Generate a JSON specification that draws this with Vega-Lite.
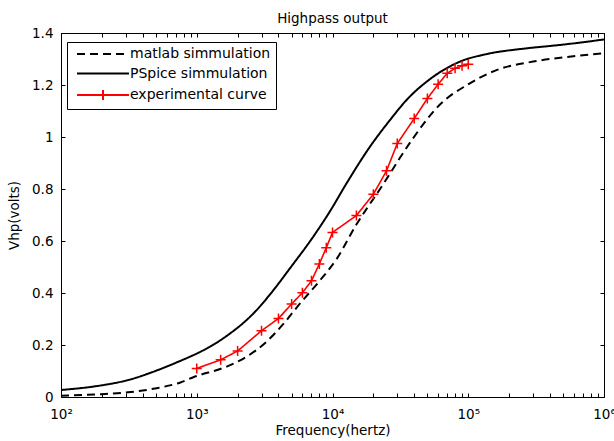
{
  "$schema": "https://vega.github.io/schema/vega-lite/v6.json",
  "width": 543,
  "height": 364,
  "autosize": "none",
  "padding": {"left": 61, "top": 33, "right": 10, "bottom": 44},
  "background": "white",
  "title": {"text": "Highpass output", "font": "DejaVu Sans", "fontSize": 13.5, "fontWeight": "normal", "color": "black", "offset": 1, "anchor": "middle"},
  "config": {"view": {"stroke": "black", "strokeWidth": 1}, "font": "DejaVu Sans"},
  "datasets": {
    "sim": [
      {"series": "PSpice simmulation", "freq": 100, "v": 0.027},
      {"series": "PSpice simmulation", "freq": 150, "v": 0.036},
      {"series": "PSpice simmulation", "freq": 200, "v": 0.045},
      {"series": "PSpice simmulation", "freq": 311, "v": 0.065},
      {"series": "PSpice simmulation", "freq": 519, "v": 0.104},
      {"series": "PSpice simmulation", "freq": 750, "v": 0.138},
      {"series": "PSpice simmulation", "freq": 891, "v": 0.155},
      {"series": "PSpice simmulation", "freq": 1000, "v": 0.167},
      {"series": "PSpice simmulation", "freq": 1570, "v": 0.226},
      {"series": "PSpice simmulation", "freq": 2770, "v": 0.335},
      {"series": "PSpice simmulation", "freq": 3660, "v": 0.41},
      {"series": "PSpice simmulation", "freq": 4860, "v": 0.495},
      {"series": "PSpice simmulation", "freq": 7180, "v": 0.615},
      {"series": "PSpice simmulation", "freq": 9600, "v": 0.715},
      {"series": "PSpice simmulation", "freq": 12700, "v": 0.822},
      {"series": "PSpice simmulation", "freq": 18900, "v": 0.963},
      {"series": "PSpice simmulation", "freq": 26500, "v": 1.065},
      {"series": "PSpice simmulation", "freq": 36100, "v": 1.149},
      {"series": "PSpice simmulation", "freq": 50000, "v": 1.215},
      {"series": "PSpice simmulation", "freq": 86900, "v": 1.29},
      {"series": "PSpice simmulation", "freq": 136700, "v": 1.319},
      {"series": "PSpice simmulation", "freq": 269000, "v": 1.341},
      {"series": "PSpice simmulation", "freq": 474000, "v": 1.354},
      {"series": "PSpice simmulation", "freq": 1000000, "v": 1.375},
      {"series": "matlab simmulation", "freq": 100, "v": 0.005},
      {"series": "matlab simmulation", "freq": 150, "v": 0.008},
      {"series": "matlab simmulation", "freq": 200, "v": 0.011},
      {"series": "matlab simmulation", "freq": 311, "v": 0.018},
      {"series": "matlab simmulation", "freq": 519, "v": 0.035},
      {"series": "matlab simmulation", "freq": 750, "v": 0.055},
      {"series": "matlab simmulation", "freq": 944, "v": 0.076},
      {"series": "matlab simmulation", "freq": 1660, "v": 0.117},
      {"series": "matlab simmulation", "freq": 2330, "v": 0.155},
      {"series": "matlab simmulation", "freq": 3270, "v": 0.213},
      {"series": "matlab simmulation", "freq": 4330, "v": 0.28},
      {"series": "matlab simmulation", "freq": 5770, "v": 0.36},
      {"series": "matlab simmulation", "freq": 7840, "v": 0.44},
      {"series": "matlab simmulation", "freq": 10700, "v": 0.53},
      {"series": "matlab simmulation", "freq": 15070, "v": 0.665},
      {"series": "matlab simmulation", "freq": 17900, "v": 0.725},
      {"series": "matlab simmulation", "freq": 22400, "v": 0.8},
      {"series": "matlab simmulation", "freq": 25100, "v": 0.84},
      {"series": "matlab simmulation", "freq": 31400, "v": 0.92},
      {"series": "matlab simmulation", "freq": 39200, "v": 0.995},
      {"series": "matlab simmulation", "freq": 61900, "v": 1.125},
      {"series": "matlab simmulation", "freq": 97900, "v": 1.2},
      {"series": "matlab simmulation", "freq": 163000, "v": 1.258},
      {"series": "matlab simmulation", "freq": 285000, "v": 1.288},
      {"series": "matlab simmulation", "freq": 534000, "v": 1.308},
      {"series": "matlab simmulation", "freq": 1000000, "v": 1.322}
    ],
    "exp": [
      {"series": "experimental curve", "freq": 1000, "v": 0.11},
      {"series": "experimental curve", "freq": 1500, "v": 0.143},
      {"series": "experimental curve", "freq": 2000, "v": 0.177},
      {"series": "experimental curve", "freq": 3000, "v": 0.255},
      {"series": "experimental curve", "freq": 4000, "v": 0.302},
      {"series": "experimental curve", "freq": 5000, "v": 0.358},
      {"series": "experimental curve", "freq": 6000, "v": 0.401},
      {"series": "experimental curve", "freq": 7000, "v": 0.447},
      {"series": "experimental curve", "freq": 8000, "v": 0.512},
      {"series": "experimental curve", "freq": 9000, "v": 0.574},
      {"series": "experimental curve", "freq": 10000, "v": 0.633},
      {"series": "experimental curve", "freq": 15000, "v": 0.698},
      {"series": "experimental curve", "freq": 20000, "v": 0.78},
      {"series": "experimental curve", "freq": 25000, "v": 0.87},
      {"series": "experimental curve", "freq": 30000, "v": 0.975},
      {"series": "experimental curve", "freq": 40000, "v": 1.071},
      {"series": "experimental curve", "freq": 50000, "v": 1.148},
      {"series": "experimental curve", "freq": 60000, "v": 1.203},
      {"series": "experimental curve", "freq": 70000, "v": 1.245},
      {"series": "experimental curve", "freq": 80000, "v": 1.264},
      {"series": "experimental curve", "freq": 90000, "v": 1.274},
      {"series": "experimental curve", "freq": 100000, "v": 1.28}
    ]
  },
  "layer": [
    {
      "data": {"name": "sim"},
      "mark": {"type": "line", "interpolate": "monotone", "strokeWidth": 2, "clip": true},
      "encoding": {
        "x": {
          "field": "freq", "type": "quantitative",
          "scale": {"type": "log", "domain": [100, 1000000], "nice": false},
          "axis": {
            "orient": "bottom", "offset": -4,
            "values": [100,200,300,400,500,600,700,800,900,1000,2000,3000,4000,5000,6000,7000,8000,9000,10000,20000,30000,40000,50000,60000,70000,80000,90000,100000,200000,300000,400000,500000,600000,700000,800000,900000,1000000],
            "labelExpr": "datum.value == 100 ? '10²' : datum.value == 1000 ? '10³' : datum.value == 10000 ? '10⁴' : datum.value == 100000 ? '10⁵' : datum.value == 1000000 ? '10⁶' : ''",
            "tickSize": 4, "tickColor": "black", "tickWidth": 1,
            "domain": false, "grid": false,
            "labelFont": "DejaVu Sans", "labelFontSize": 13.5, "labelColor": "black", "labelPadding": 10,
            "labelFlush": false, "labelOverlap": false,
            "title": "Frequency(hertz)", "titleFont": "DejaVu Sans", "titleFontSize": 13.5, "titleFontWeight": "normal", "titleColor": "black", "titlePadding": 3
          }
        },
        "y": {
          "field": "v", "type": "quantitative",
          "scale": {"domain": [0, 1.4], "nice": false},
          "axis": {
            "orient": "left", "offset": -4,
            "values": [0, 0.2, 0.4, 0.6, 0.8, 1, 1.2, 1.4],
            "format": "~g",
            "tickSize": 4, "tickColor": "black",
            "domain": false, "grid": false,
            "labelFont": "DejaVu Sans", "labelFontSize": 13.5, "labelColor": "black", "labelPadding": 8,
            "labelFlush": false, "labelOverlap": false,
            "title": "Vhp(volts)", "titleFont": "DejaVu Sans", "titleFontSize": 13.5, "titleFontWeight": "normal", "titleColor": "black", "titlePadding": 10
          }
        },
        "color": {
          "field": "series", "type": "nominal",
          "scale": {"domain": ["matlab simmulation", "PSpice simmulation", "experimental curve"], "range": ["black", "black", "red"]},
          "legend": {
            "orient": "none", "legendX": 6, "legendY": 9, "title": null,
            "strokeColor": "black", "fillColor": "white", "padding": 5, "cornerRadius": 0,
            "labelFont": "DejaVu Sans", "labelFontSize": 14, "labelColor": "black",
            "symbolType": "M-5.2,0H5.2", "symbolSize": 100, "symbolStrokeWidth": 2,
            "symbolOffset": 24, "labelOffset": 20, "rowPadding": 5.5,
            "encode": {"symbols": {"update": {"shape": {"signal": "datum.value == 'experimental curve' ? 'M-5.2,0H5.2M0,-1V1' : 'M-5.2,0H5.2'"}}}}
          }
        },
        "strokeDash": {
          "field": "series", "type": "nominal",
          "scale": {"domain": ["matlab simmulation", "PSpice simmulation", "experimental curve"], "range": [[8, 5], [1, 0], [1, 0]]},
          "legend": {
            "orient": "none", "legendX": 6, "legendY": 9, "title": null,
            "strokeColor": "black", "fillColor": "white", "padding": 5, "cornerRadius": 0,
            "labelFont": "DejaVu Sans", "labelFontSize": 14, "labelColor": "black",
            "symbolType": "M-5.2,0H5.2", "symbolSize": 100, "symbolStrokeWidth": 2,
            "symbolOffset": 24, "labelOffset": 20, "rowPadding": 5.5,
            "encode": {"symbols": {"update": {"shape": {"signal": "datum.value == 'experimental curve' ? 'M-5.2,0H5.2M0,-1V1' : 'M-5.2,0H5.2'"}}}}
          }
        }
      }
    },
    {
      "data": {"name": "exp"},
      "mark": {"type": "line", "strokeWidth": 1.6},
      "encoding": {
        "x": {
          "field": "freq", "type": "quantitative",
          "axis": {
            "orient": "top", "offset": -4,
            "values": [100,200,300,400,500,600,700,800,900,1000,2000,3000,4000,5000,6000,7000,8000,9000,10000,20000,30000,40000,50000,60000,70000,80000,90000,100000,200000,300000,400000,500000,600000,700000,800000,900000,1000000],
            "labels": false, "tickSize": 4, "tickColor": "black", "domain": false, "grid": false, "title": null
          }
        },
        "y": {
          "field": "v", "type": "quantitative",
          "axis": {
            "orient": "right", "offset": -4,
            "values": [0, 0.2, 0.4, 0.6, 0.8, 1, 1.2, 1.4],
            "labels": false, "tickSize": 4, "tickColor": "black", "domain": false, "grid": false, "title": null
          }
        },
        "color": {"field": "series", "type": "nominal"},
        "strokeDash": {"field": "series", "type": "nominal"}
      }
    },
    {
      "data": {"name": "exp"},
      "mark": {"type": "point", "shape": "M-1,0L1,0M0,-1L0,1", "size": 100, "filled": false, "stroke": "red", "strokeWidth": 1.5, "opacity": 1},
      "encoding": {
        "x": {"field": "freq", "type": "quantitative", "axis": null},
        "y": {"field": "v", "type": "quantitative", "axis": null}
      }
    }
  ],
  "resolve": {"axis": {"x": "independent", "y": "independent"}}
}
